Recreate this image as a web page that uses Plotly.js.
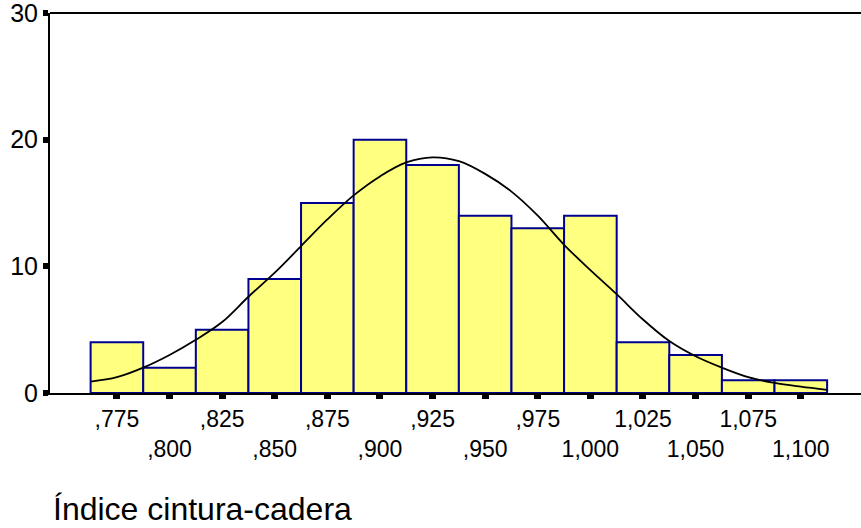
<!DOCTYPE html>
<html>
<head>
<meta charset="utf-8">
<script src="https://cdn.plot.ly/plotly-3.0.1.min.js"></script>
<style>
  html, body { margin: 0; padding: 0; background: #ffffff; }
  #chart { width: 861px; height: 528px; }
</style>
</head>
<body>
<div id="chart"></div>
<script>
// Histogram bins (centers) and counts
const binCenters = [0.775, 0.800, 0.825, 0.850, 0.875, 0.900, 0.925, 0.950, 0.975, 1.000, 1.025, 1.050, 1.075, 1.100];
const binCounts  = [4, 2, 5, 9, 15, 20, 18, 14, 13, 14, 4, 3, 1, 1];
const tickLabels = [",775", ",800", ",825", ",850", ",875", ",900", ",925", ",950", ",975", "1,000", "1,025", "1,050", "1,075", "1,100"];

// Normal curve, values
const curveX = [0.7625, 0.775, 0.7875, 0.800, 0.8125, 0.825, 0.8375, 0.850, 0.8625, 0.875, 0.8875, 0.900, 0.9125, 0.925, 0.9375, 0.950, 0.9625, 0.975, 0.9875, 1.000, 1.0125, 1.025, 1.0375, 1.050, 1.0625, 1.075, 1.0875, 1.100, 1.1125];
const curveY = [0.9, 1.25, 2.0, 3.0, 4.2, 5.6, 7.6, 9.5, 11.6, 13.7, 15.6, 17.1, 18.2, 18.6, 18.3, 17.3, 15.9, 14.0, 11.7, 9.7, 7.8, 5.8, 4.1, 2.9, 2.0, 1.25, 0.8, 0.5, 0.25];

const yTicks = [0, 10, 20, 30];
const axisTitle = "Índice cintura-cadera";

const binWidth = 0.025;
const staggered = tickLabels.map((t, i) => (i % 2 === 0 ? t : "<br>" + t));

const FONT = "Liberation Sans, Arial, Helvetica, sans-serif";

const traces = [
  {
    type: "bar",
    x: binCenters,
    y: binCounts,
    width: binCenters.map(() => binWidth),
    marker: { color: "#FFFF80", line: { color: "#000090", width: 2 } },
    hoverinfo: "x+y",
    showlegend: false
  },
  {
    type: "scatter",
    mode: "lines",
    x: curveX,
    y: curveY,
    line: { color: "#000000", width: 1.8, shape: "spline" },
    hoverinfo: "skip",
    showlegend: false
  }
];

const layout = {
  width: 861,
  height: 528,
  margin: { l: 50, r: 0, t: 13, b: 135, pad: 0 },
  paper_bgcolor: "#ffffff",
  plot_bgcolor: "#ffffff",
  bargap: 0,
  font: { family: FONT, color: "#000000" },
  xaxis: {
    range: [0.7432, 1.1286],
    tickmode: "array",
    tickvals: binCenters,
    ticktext: staggered,
    tickangle: 0,
    ticks: "outside",
    ticklen: 4,
    tickwidth: 7,
    tickcolor: "#000000",
    tickfont: { family: FONT, size: 23, color: "#000000" },
    showline: true,
    linecolor: "#000000",
    linewidth: 2,
    showgrid: false,
    zeroline: false,
    ticklabelstandoff: 0,
    ticklabeloverflow: "allow"
  },
  yaxis: {
    range: [0, 30],
    tickmode: "array",
    tickvals: yTicks,
    ticktext: yTicks.map(String),
    ticks: "outside",
    ticklen: 5,
    tickwidth: 6,
    tickcolor: "#000000",
    tickfont: { family: FONT, size: 25, color: "#000000" },
    showline: true,
    linecolor: "#000000",
    linewidth: 2,
    showgrid: false,
    zeroline: false,
    ticklabeloverflow: "allow"
  },
  shapes: [
    { type: "line", xref: "paper", yref: "paper", x0: 0, x1: 1, y0: 1, y1: 1,
      line: { color: "#000000", width: 2 } }
  ],
  annotations: [
    { text: axisTitle, xref: "paper", yref: "paper", x: 0, y: -0.305,
      xanchor: "left", yanchor: "middle", xshift: 1, showarrow: false,
      font: { family: FONT, size: 32, color: "#000000" } }
  ]
};

Plotly.newPlot("chart", traces, layout, { displayModeBar: false, staticPlot: true });
</script>
</body>
</html>
